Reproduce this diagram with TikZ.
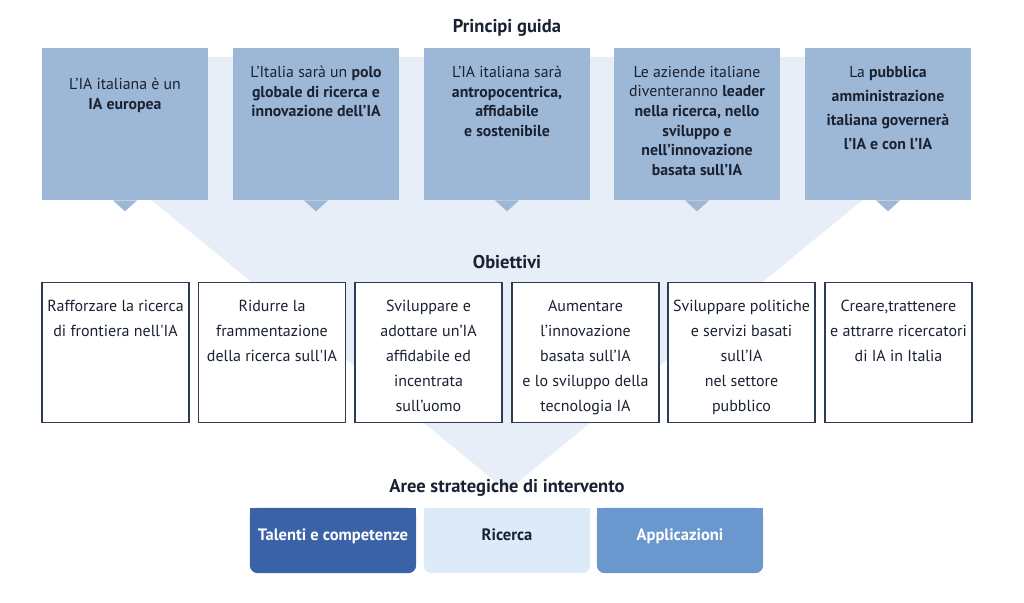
\documentclass[tikz,border=0pt]{standalone}
\usepackage{fontspec}
\setmainfont{PT Sans}
\usetikzlibrary{positioning,backgrounds}
\definecolor{pblue}{HTML}{9DB8D7}
\definecolor{funnel}{HTML}{E7EEF7}
\definecolor{ink}{HTML}{1A2232}
\definecolor{navy}{HTML}{2E3B55}
\definecolor{cTal}{HTML}{3A62A7}
\definecolor{cRic}{HTML}{DDEBF9}
\definecolor{cApp}{HTML}{6A97CE}
\tikzset{
  pbox/.style={fill=pblue, minimum width=166pt, minimum height=152pt, anchor=north, inner sep=0pt},
  ptext/.style={align=center, anchor=north, inner sep=0pt, text=ink, font=\fontsize{15.8}{19.6}\selectfont},
  obox/.style={draw=navy, line width=1.3pt, fill=white, minimum width=147pt, minimum height=140pt, anchor=north, inner sep=0pt},
  otext/.style={align=center, anchor=north, inner sep=0pt, text=ink, font=\fontsize{16}{25}\selectfont},
  head/.style={text=ink, font=\fontsize{18.5}{20}\selectfont\bfseries},
  abox/.style={minimum width=166pt, minimum height=65pt, inner sep=0pt, text height=11pt, text depth=11pt, font=\fontsize{16.5}{18}\selectfont\bfseries},
}

\begin{document}
\begin{tikzpicture}[x=1pt,y=-1pt]
  \useasboundingbox (0,0) rectangle (1024,602);
  % funnel behind everything
  \fill[funnel] (73,57) -- (941,57) -- (941,136) -- (507,491) -- (73,136) -- cycle;

  % principi guida
  \node[head] (hPrin) at (507,28) {Principi guida};
  \foreach \n/\x in {1/125,2/316,3/507,4/697,5/888} {
    \node[pbox] (p\n) at (\x,48) {};
    \fill[pblue] ([xshift=-12pt]p\n.south) -- ([xshift=12pt]p\n.south) -- ([yshift=-11pt]p\n.south) -- cycle;
  }
  \node[ptext] (q1) at (125,78) {L’IA italiana è un\\\textbf{IA europea}};
  \node[ptext] (q2) at (316,66) {L’Italia sarà un \textbf{polo}\\\textbf{globale di ricerca e}\\\textbf{innovazione dell’IA}};
  \node[ptext] (q3) at (507,66) {L’IA italiana sarà\\\textbf{antropocentrica,}\\\textbf{affidabile}\\\textbf{e sostenibile}};
  \node[ptext] (q4) at (697,66) {Le aziende italiane\\diventeranno \textbf{leader}\\\textbf{nella ricerca, nello}\\\textbf{sviluppo e}\\\textbf{nell’innovazione}\\\textbf{basata sull’IA}};
  \node[ptext, font=\fontsize{15.8}{24}\selectfont] (q5) at (888,66) {La \textbf{pubblica}\\\textbf{amministrazione}\\\textbf{italiana governerà}\\\textbf{l’IA e con l’IA}};

  % obiettivi
  \node[head] (hObi) at (507,262) {Obiettivi};
  \foreach \n/\x in {1/115.5,2/272,3/428.5,4/585.5,5/741.5,6/898.5}
    \node[obox] (o\n) at (\x,282) {};
  \node[otext, below=18pt of o1.north] (r1) {Rafforzare la ricerca\\di frontiera nell\textquotesingle IA};
  \node[otext, below=18pt of o2.north] (r2) {Ridurre la\\frammentazione\\della ricerca sull\textquotesingle IA};
  \node[otext, below=18pt of o3.north] (r3) {Sviluppare e\\adottare un’IA\\affidabile ed\\incentrata\\sull’uomo};
  \node[otext, below=18pt of o4.north] (r4) {Aumentare\\l’innovazione\\basata sull’IA\\e lo sviluppo della\\tecnologia IA};
  \node[otext, below=18pt of o5.north] (r5) {Sviluppare politiche\\e servizi basati\\sull’IA\\nel settore\\pubblico};
  \node[otext, below=18pt of o6.north] (r6) {Creare,trattenere\\e attrarre ricercatori\\di IA in Italia};

  % aree strategiche
  \node[head] (hAree) at (507,488) {Aree strategiche di intervento};
  \node[abox, text=white] (a1) at (333,540.5) {Talenti e competenze};
  \node[abox, text=ink] (a2) at (507,540.5) {Ricerca};
  \node[abox, text=white] (a3) at (680,540.5) {Applicazioni};
  \begin{scope}[on background layer]
    \foreach \n/\c in {1/cTal,2/cRic,3/cApp} {
      \fill[\c, rounded corners=8pt] (a\n.north west) rectangle (a\n.south east);
      \fill[\c] (a\n.north west) rectangle (a\n.east);
    }
  \end{scope}
\end{tikzpicture}
\end{document}
